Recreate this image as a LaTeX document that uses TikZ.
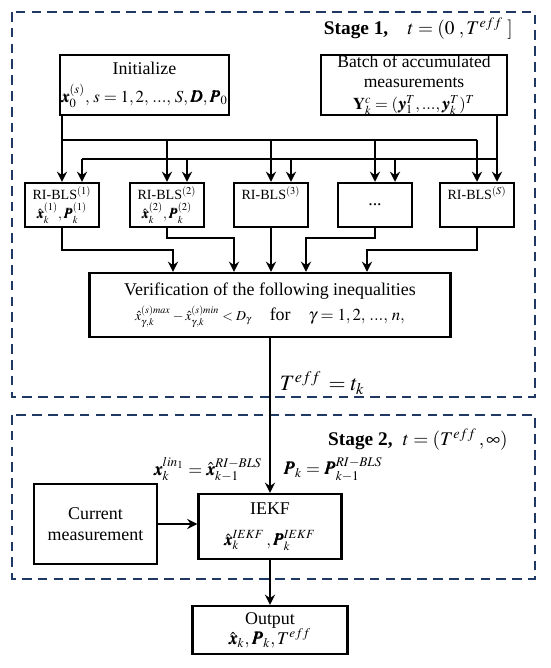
\documentclass[tikz,border=0pt]{standalone}
\usepackage{amsmath,amssymb}
\usepackage{mathptmx}
\usepackage{bm}
\usepackage[no-math]{fontspec}
\setmainfont{Liberation Serif}
\usetikzlibrary{arrows.meta,positioning,calc}
\definecolor{stagenavy}{RGB}{31,56,100}

\begin{document}
\begin{tikzpicture}[x=0.02cm, y=-0.02cm,
      box/.style={draw=black, line width=1.4pt, fill=white, inner sep=0pt,
                  align=center, font=\fontsize{10.2}{11.6}\selectfont},
      smallbox/.style={box, minimum width=1.48cm, minimum height=0.88cm,
                       font=\fontsize{8}{10.5}\selectfont},
      link/.style={line width=1.3pt, -{Stealth[length=5.8pt, width=5.8pt, inset=2pt]}},
      wire/.style={line width=1.3pt},
      stage/.style={draw=stagenavy, line width=1.2pt, dash pattern=on 5.5pt off 3.5pt},
      lbl/.style={font=\fontsize{10.2}{12}\selectfont, inner sep=0pt}]
    \useasboundingbox (0,0) rectangle (550,668);
    % stage frames
    \draw[stage] (12,12) rectangle (535,397);
    \draw[stage] (12,415) rectangle (535,579);
    \node[lbl, font=\fontsize{11}{13}\selectfont, anchor=east] (st1) at (513,29)
      {\textbf{Stage 1,}\quad $t=(0\;,T^{eff}\;]$};
    \node[lbl, font=\fontsize{11}{13}\selectfont, anchor=east] (st2) at (508,440)
      {\textbf{Stage 2,}\; $t=(T^{eff}\,,\infty)$};
    % inputs
    \node[box, minimum width=3.38cm, minimum height=1.2cm] (init) at (144.5,85)
      {Initialize\\[4pt] {\fontsize{9.6}{11}\selectfont
       $\bm{x}_0^{(s)},\, s=1,2,\,...,\,S,\bm{D},\bm{P}_0$}};
    \node[box, minimum width=3.72cm, minimum height=1.2cm,
          font=\fontsize{10}{11}\selectfont] (batch) at (414,85)
      {Batch of accumulated\\ measurements\\[1.5pt]
       {\fontsize{9.4}{10}\selectfont $\mathbf{Y}_k^c=(\bm{y}_1^T,...,\bm{y}_k^T)^T$}};
    % parallel RI-BLS estimators
    \foreach \k/\x in {1/62, 2/167}
      \node[smallbox] (b\k) at (\x,205)
        {RI-BLS$^{(\k)}$\\ $\hat{\bm x}_k^{(\k)},\bm P_k^{(\k)}$};
    \node[smallbox] (b3) at (271,205) {RI-BLS$^{(3)}$\\ \phantom{$\hat{\bm x}_k^{(3)}$}};
    \node[smallbox, font=\fontsize{10.2}{12}\selectfont] (b4) at (375,205) {...};
    \node[smallbox] (b5) at (477,205) {RI-BLS$^{(S)}$\\ \phantom{$\hat{\bm x}_k^{(3)}$}};
    \coordinate (h1) at (0,140);
    \coordinate (h2) at (0,159);
    \draw[link] (init.south -| b1) -- (b1.north);
    \draw[wire] (b1 |- h1) -- (b5 |- h1);
    \foreach \k in {2,...,5}
      \draw[link] (b\k |- h1) -- (b\k.north);
    \foreach \k in {1,...,5}
      \coordinate (r\k) at ($(b\k.north)+(20,0)$);
    \draw[link] (batch.south -| r5) -- (r5);
    \draw[wire] (r1 |- h2) -- (r5 |- h2);
    \foreach \k in {1,...,4}
      \draw[link] (r\k |- h2) -- (r\k);
    % verification
    \node[box, minimum width=7.22cm, minimum height=1.28cm] (verif) at (270,305)
      {Verification of the following inequalities\\[3pt]
       {\fontsize{7.8}{9}\selectfont
        $\hat{x}^{(s)max}_{\gamma,k}-\hat{x}^{(s)min}_{\gamma,k}<D_\gamma$}\quad for\quad
       {\fontsize{9.6}{11}\selectfont $\gamma=1,2,\,...,\,n,$}};
    \draw[link] (b1.south) -- ++(0,22) -| ($(verif.north)+(-97,0)$);
    \draw[link] (b2.south) -- ++(0,10) -| ($(verif.north)+(-36,0)$);
    \draw[link] (b3.south) -- (b3.south |- verif.north);
    \draw[link] (b4.south) -- ++(0,10) -| ($(verif.north)+(36,0)$);
    \draw[link] (b5.south) -- ++(0,22) -| ($(verif.north)+(97,0)$);
    % stage 2
    \node[box, minimum width=2.86cm, minimum height=1.3cm] (iekf) at (270,526.5)
      {IEKF\\[6pt] {\fontsize{9.6}{11}\selectfont
       $\hat{\bm x}_k^{IEKF}\,,\bm P_k^{IEKF}$}};
    \node[box, minimum width=2.46cm, minimum height=1.6cm] (cur) at (95.5,524)
      {Current\\ measurement};
    \node[box, minimum width=3.1cm, minimum height=0.96cm] (out) at (270,630)
      {Output\\ $\hat{\bm x}_k,\bm P_k,T^{eff}$};
    \draw[link] (verif.south) -- (iekf.north)
      node[lbl, font=\fontsize{12.5}{14}\selectfont, pos=0.29, right=5pt] (teff)
        {$T^{eff}\,=t_k$}
      node[lbl, pos=0.85, left=4pt] (xlin) {$\bm x_k^{lin_1}=\hat{\bm x}_{k-1}^{RI-BLS}$}
      node[lbl, pos=0.85, right=7pt] (plin) {$\bm P_k=\bm P_{k-1}^{RI-BLS}$};
    \draw[link] (cur.east) -- (cur.east -| iekf.west);
    \draw[link] (iekf.south) -- (out.north);
  \end{tikzpicture}
\end{document}
